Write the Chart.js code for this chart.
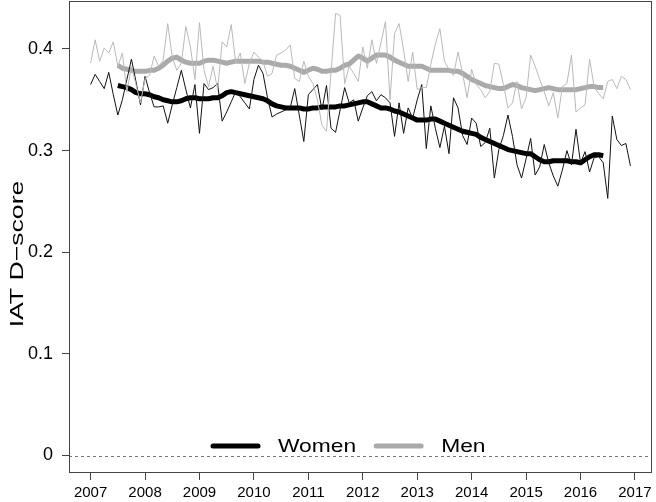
<!DOCTYPE html>
<html>
<head>
<meta charset="utf-8">
<script src="https://cdn.jsdelivr.net/npm/chart.js@4.4.1/dist/chart.umd.min.js"></script>
<style>
  html, body { margin: 0; padding: 0; background: #fff; }
  canvas { display: block; }
</style>
</head>
<body>
<canvas id="c" width="656" height="502"></canvas>
<script>
// ---- data (monthly IAT D-scores, Jan 2007 .. Dec 2016) ----
const startYear = 2007;
const womenMonthly = [
  0.365,0.375,0.368,0.361,0.377,0.355,0.335,0.350,0.370,0.390,0.368,0.345,
  0.373,0.357,0.343,0.343,0.344,0.327,0.345,0.362,0.379,0.360,0.342,0.365,
  0.317,0.366,0.360,0.362,0.366,0.329,0.338,0.348,0.358,0.353,0.347,0.341,
  0.370,0.384,0.376,0.352,0.333,0.336,0.338,0.340,0.342,0.361,0.335,0.309,
  0.355,0.360,0.365,0.340,0.364,0.322,0.318,0.340,0.362,0.347,0.350,0.329,
  0.342,0.354,0.358,0.349,0.355,0.352,0.347,0.314,0.347,0.317,0.342,0.332,
  0.350,0.365,0.302,0.344,0.322,0.303,0.324,0.297,0.352,0.342,0.315,0.306,
  0.332,0.327,0.304,0.308,0.322,0.273,0.301,0.315,0.335,0.314,0.286,0.273,
  0.292,0.312,0.276,0.284,0.306,0.288,0.275,0.265,0.281,0.300,0.286,0.321,
  0.288,0.299,0.279,0.293,0.294,0.288,0.253,0.334,0.311,0.305,0.307,0.285
];
const menMonthly = [
  0.386,0.409,0.388,0.401,0.396,0.407,0.383,0.396,0.358,0.383,0.365,0.347,
  0.371,0.374,0.393,0.383,0.389,0.425,0.392,0.379,0.386,0.422,0.402,0.370,
  0.426,0.379,0.363,0.383,0.360,0.407,0.402,0.424,0.386,0.396,0.366,0.386,
  0.397,0.392,0.388,0.373,0.376,0.394,0.396,0.399,0.404,0.371,0.368,0.388,
  0.373,0.366,0.350,0.325,0.319,0.377,0.435,0.433,0.366,0.383,0.376,0.368,
  0.402,0.381,0.409,0.386,0.406,0.427,0.350,0.415,0.425,0.399,0.368,0.397,
  0.360,0.362,0.362,0.385,0.405,0.420,0.388,0.380,0.374,0.397,0.376,0.352,
  0.380,0.365,0.360,0.352,0.358,0.386,0.385,0.365,0.342,0.347,0.368,0.341,
  0.352,0.394,0.383,0.370,0.358,0.344,0.357,0.332,0.363,0.366,0.394,0.338,
  0.342,0.345,0.390,0.363,0.356,0.351,0.368,0.370,0.361,0.373,0.370,0.360
];
// smoothed series start at month index 6 (Jul 2007)
const smoothStartMonth = 6;
const womenSmooth = [
  0.364,0.363,0.362,0.360,0.357,0.356,0.356,0.355,0.353,0.352,0.350,0.349,
  0.348,0.348,0.349,0.351,0.352,0.352,0.351,0.351,0.351,0.352,0.352,0.354,
  0.357,0.358,0.357,0.356,0.355,0.354,0.353,0.352,0.351,0.349,0.346,0.344,
  0.343,0.342,0.342,0.342,0.342,0.341,0.341,0.342,0.342,0.343,0.343,0.343,
  0.343,0.344,0.344,0.345,0.346,0.347,0.348,0.348,0.346,0.344,0.342,0.342,
  0.341,0.339,0.338,0.336,0.334,0.332,0.330,0.330,0.330,0.331,0.331,0.329,
  0.327,0.325,0.323,0.321,0.319,0.318,0.317,0.316,0.313,0.311,0.309,0.307,
  0.305,0.303,0.301,0.300,0.299,0.298,0.297,0.297,0.294,0.291,0.289,0.289,
  0.290,0.290,0.290,0.290,0.289,0.289,0.288,0.291,0.294,0.296,0.296,0.295
];
const menSmooth = [
  0.384,0.381,0.380,0.379,0.378,0.378,0.378,0.379,0.379,0.381,0.384,0.388,
  0.391,0.392,0.389,0.387,0.386,0.386,0.386,0.388,0.389,0.389,0.388,0.387,
  0.386,0.387,0.388,0.388,0.388,0.388,0.388,0.388,0.387,0.387,0.386,0.385,
  0.384,0.384,0.383,0.381,0.379,0.377,0.379,0.381,0.380,0.378,0.378,0.379,
  0.379,0.381,0.384,0.385,0.389,0.393,0.391,0.388,0.391,0.394,0.394,0.394,
  0.392,0.389,0.387,0.385,0.383,0.383,0.383,0.383,0.381,0.379,0.379,0.379,
  0.379,0.379,0.378,0.378,0.376,0.373,0.370,0.368,0.366,0.364,0.363,0.362,
  0.361,0.361,0.363,0.365,0.364,0.362,0.361,0.360,0.359,0.360,0.361,0.362,
  0.361,0.360,0.360,0.360,0.360,0.360,0.361,0.362,0.363,0.363,0.362,0.362
];
const xTickYears = [2007,2008,2009,2010,2011,2012,2013,2014,2015,2016,2017];
const yTickValues = [0, 0.1, 0.2, 0.3, 0.4];
const yTickLabels = ['0', '0.1', '0.2', '0.3', '0.4'];
const legendLabels = ['Women', 'Men'];
const yTitle = 'IAT D\u2212score';

// ---- build points ----
const toPts = (arr, offset) => arr.map((v, i) => ({ x: startYear + (i + offset) / 12, y: v }));

const COL_W = '#000000';
const COL_M_THIN = '#b9b9b9';
const COL_M_THICK = '#aaaaaa';

const boxPlugin = {
  id: 'boxPlugin',
  beforeDatasetsDraw(chart) {
    const { ctx, chartArea: a, scales } = chart;
    const y0 = scales.y.getPixelForValue(0);
    ctx.save();
    ctx.strokeStyle = '#777';
    ctx.lineWidth = 1;
    ctx.setLineDash([3, 3]);
    ctx.beginPath();
    ctx.moveTo(a.left, Math.round(y0) + 0.5);
    ctx.lineTo(a.right, Math.round(y0) + 0.5);
    ctx.stroke();
    ctx.restore();
  },
  afterDraw(chart) {
    const { ctx, chartArea: a } = chart;
    ctx.save();
    ctx.strokeStyle = '#444';
    ctx.lineWidth = 1;
    ctx.strokeRect(Math.round(a.left) + 0.5, Math.round(a.top) + 0.5,
                   Math.round(a.right - a.left) - 1, Math.round(a.bottom - a.top) - 1);

    // y axis title (stretched along its direction like the reference)
    ctx.save();
    ctx.translate(18, (a.top + a.bottom) / 2 + 17);
    ctx.rotate(-Math.PI / 2);
    ctx.scale(1.4, 1);
    ctx.fillStyle = '#000';
    ctx.font = '19px "Liberation Sans", Arial, sans-serif';
    ctx.textAlign = 'center';
    ctx.textBaseline = 'middle';
    ctx.fillText(yTitle, 0, 0);
    ctx.restore();

    // legend inside plot, bottom
    const ly = a.bottom - 27;
    let lx = a.left + 144;
    const items = [
      { label: legendLabels[0], color: COL_W },
      { label: legendLabels[1], color: COL_M_THICK }
    ];
    ctx.font = '19px "Liberation Sans", Arial, sans-serif';
    ctx.textBaseline = 'middle';
    ctx.textAlign = 'left';
    items.forEach((it) => {
      ctx.strokeStyle = it.color;
      ctx.lineWidth = 5;
      ctx.lineCap = 'round';
      ctx.beginPath();
      ctx.moveTo(lx, ly);
      ctx.lineTo(lx + 45, ly);
      ctx.stroke();
      lx += 65;
      const w = ctx.measureText(it.label).width * 1.2;
      ctx.save();
      ctx.translate(lx, ly + 1);
      ctx.scale(1.2, 1);
      ctx.fillStyle = '#000';
      ctx.fillText(it.label, 0, 0);
      ctx.restore();
      lx += w + 20;
    });
    ctx.restore();
  }
};

new Chart(document.getElementById('c'), {
  type: 'line',
  data: {
    datasets: [
      { label: 'Men monthly', data: toPts(menMonthly, 0), borderColor: COL_M_THIN, borderWidth: 1 },
      { label: 'Women monthly', data: toPts(womenMonthly, 0), borderColor: '#111', borderWidth: 1 },
      { label: 'Men', data: toPts(menSmooth, smoothStartMonth), borderColor: COL_M_THICK, borderWidth: 5 },
      { label: 'Women', data: toPts(womenSmooth, smoothStartMonth), borderColor: COL_W, borderWidth: 5 }
    ]
  },
  options: {
    responsive: false,
    animation: false,
    devicePixelRatio: 1,
    layout: { padding: { top: 1, right: 4, left: 0, bottom: 0 } },
    elements: {
      point: { radius: 0 },
      line: { tension: 0, borderJoinStyle: 'round', borderCapStyle: 'butt', fill: false }
    },
    plugins: { legend: { display: false }, tooltip: { enabled: false } },
    scales: {
      x: {
        type: 'linear',
        min: 2006.603,
        max: 2017.313,
        afterBuildTicks: (s) => { s.ticks = xTickYears.map(v => ({ value: v })); },
        afterFit: (s) => { s.height = 29; s.paddingLeft = 0; s.paddingRight = 0; s.paddingTop = 0; s.paddingBottom = 0; },
        border: { display: false },
        grid: { drawOnChartArea: false, drawTicks: true, tickLength: 7, color: '#444' },
        ticks: {
          padding: 4,
          color: '#000',
          maxRotation: 0,
          autoSkip: false,
          font: { family: '"Liberation Sans", Arial, sans-serif', size: 15 },
          callback: (v) => String(v)
        }
      },
      y: {
        type: 'linear',
        min: -0.0172,
        max: 0.4472,
        afterBuildTicks: (s) => { s.ticks = yTickValues.map(v => ({ value: v })); },
        afterFit: (s) => { s.width = 69; s.paddingLeft = 0; s.paddingRight = 0; s.paddingTop = 0; s.paddingBottom = 0; },
        border: { display: false },
        grid: { drawOnChartArea: false, drawTicks: true, tickLength: 7, color: '#444' },
        ticks: {
          padding: 9,
          color: '#000',
          autoSkip: false,
          font: { family: '"Liberation Sans", Arial, sans-serif', size: 18 },
          callback: (v) => {
            const i = yTickValues.findIndex(t => Math.abs(t - v) < 1e-9);
            return i >= 0 ? yTickLabels[i] : '';
          }
        }
      }
    }
  },
  plugins: [boxPlugin]
});
</script>
</body>
</html>
